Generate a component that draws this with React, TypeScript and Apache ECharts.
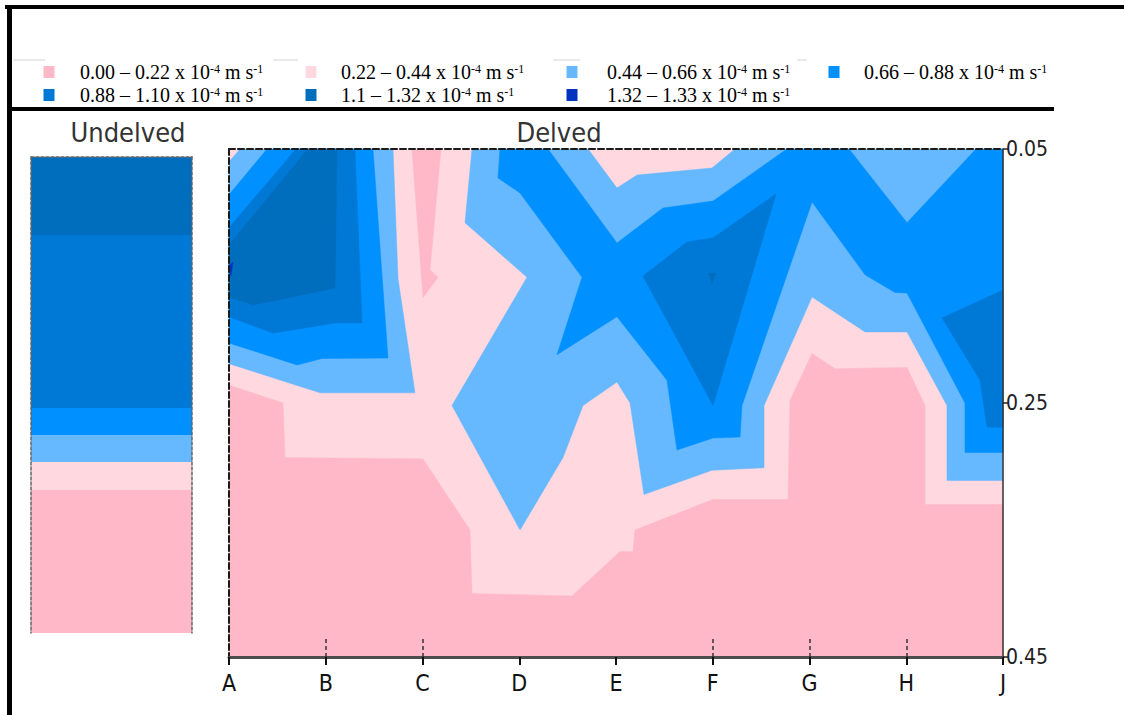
import React, { useEffect, useRef } from 'react';
import * as echarts from 'echarts';

// ---- data ----------------------------------------------------------------
const sites = ['A', 'B', 'C', 'D', 'E', 'F', 'G', 'H', 'J'];
const depthTicks = [0.05, 0.25, 0.45];
const innerTickSites = [1, 2, 5, 6, 7];

const bandRanges = [
  '0.00 – 0.22',
  '0.22 – 0.44',
  '0.44 – 0.66',
  '0.66 – 0.88',
  '0.88 – 1.10',
  '1.1 – 1.32',
  '1.32 – 1.33',
];
const bandColors = ['#ffb8c8', '#ffd8e0', '#66b8ff', '#0090ff', '#0079d6', '#006dbd', '#0033c0'];

// Undelved profile: layer boundaries (m) and the conductivity class of each layer
const undelvedBreaks = [0.05, 0.1155, 0.261, 0.2836, 0.3063, 0.3298, 0.45];
const undelvedClasses = [5, 4, 3, 2, 1, 0];

// Delved transect: contour regions, vertices as [site position, depth (m)]
const zone1Base = [[0, 0.05], [8, 0.05], [8, 0.45], [0, 0.45]];
const zone0Lower = [
  [0, 0.236], [0.558, 0.25], [0.579, 0.293], [2.005, 0.294], [2.491, 0.35], [2.512, 0.4],
  [3.545, 0.402], [4.041, 0.367], [4.176, 0.367], [4.196, 0.35], [5.003, 0.326], [5.778, 0.326],
  [5.798, 0.248], [6.026, 0.211], [6.264, 0.223], [7.008, 0.222], [7.194, 0.252], [7.194, 0.33],
  [8, 0.33], [8, 0.45], [0, 0.45],
];
const zone0Sliver = [[1.891, 0.05], [2.191, 0.05], [2.078, 0.145], [2.16, 0.151], [2.005, 0.167]];
const zone2West = [
  [0.114, 0.05], [1.695, 0.05], [1.747, 0.152], [1.922, 0.242], [0.941, 0.242], [0, 0.219], [0, 0.06],
];
const zone2East = [
  [2.512, 0.05], [3.711, 0.05], [4.01, 0.0807], [4.217, 0.0705], [4.992, 0.065], [5.23, 0.05],
  [8, 0.05], [8, 0.311], [7.421, 0.311], [7.421, 0.252], [7.008, 0.194], [6.574, 0.194],
  [6.026, 0.1665], [5.53, 0.252], [5.53, 0.301], [4.992, 0.303], [4.289, 0.322], [4.145, 0.25],
  [4.01, 0.2335], [3.659, 0.252], [3.452, 0.293], [3.008, 0.35], [2.305, 0.252], [3.08, 0.151],
  [2.439, 0.108],
];
const zone3West = [
  [0.393, 0.05], [1.488, 0.05], [1.643, 0.2146], [0.961, 0.215], [0.703, 0.22], [0, 0.2028], [0, 0.086],
];
const zone3East = [
  [2.801, 0.05], [3.297, 0.05], [4.01, 0.124], [4.486, 0.0965], [5.003, 0.091], [5.767, 0.05],
  [6.408, 0.05], [7.008, 0.108], [7.721, 0.05], [8, 0.05], [8, 0.289], [7.607, 0.289],
  [7.607, 0.25], [7.008, 0.1634], [6.884, 0.163], [6.574, 0.149], [6.026, 0.0917], [5.302, 0.252],
  [5.282, 0.2768], [5.003, 0.2776], [4.63, 0.287], [4.527, 0.232], [4.01, 0.182], [3.39, 0.212],
  [3.649, 0.151], [3.008, 0.0846], [2.78, 0.0728],
];
const zone4West = [
  [0.693, 0.05], [1.302, 0.05], [1.375, 0.187], [1.096, 0.187], [0.455, 0.195], [0, 0.182], [0, 0.112],
];
const zone4SiteF = [[4.279, 0.15], [4.734, 0.1232], [5.003, 0.12], [5.654, 0.0854], [5.003, 0.252]];
const zone4SiteJ = [[7.37, 0.183], [8, 0.161], [8, 0.269], [7.835, 0.269], [7.762, 0.232]];
const zone5West = [[0.817, 0.05], [1.116, 0.05], [1.096, 0.1594], [0.248, 0.1728], [0, 0.1665], [0, 0.1256]];
const zone5SiteF = [[4.96, 0.148], [5.03, 0.148], [4.99, 0.156]];
const zone6West = [[0, 0.142], [0.041, 0.139], [0.02, 0.15]];

const delvedZones = [
  { level: 1, pts: zone1Base },
  { level: 0, pts: zone0Lower },
  { level: 0, pts: zone0Sliver },
  { level: 2, pts: zone2West },
  { level: 2, pts: zone2East },
  { level: 3, pts: zone3West },
  { level: 3, pts: zone3East },
  { level: 4, pts: zone4West },
  { level: 4, pts: zone4SiteF },
  { level: 4, pts: zone4SiteJ },
  { level: 5, pts: zone5West },
  { level: 5, pts: zone5SiteF },
  { level: 6, pts: zone6West },
];

// ---- layout --------------------------------------------------------------
const W = 1124;
const H = 715;
const NARROW = "'Liberation Sans Narrow', 'DejaVu Sans Condensed', Arial, sans-serif";
const SERIF = "'Liberation Serif', 'Times New Roman', serif";
const TITLE_FONT = "'DejaVu Sans Condensed', 'DejaVu Sans', sans-serif";

const legendSlots = [
  { mx: 49, my: 72, tx: 80 },
  { mx: 311, my: 72, tx: 341 },
  { mx: 572, my: 72, tx: 607 },
  { mx: 834, my: 72, tx: 864 },
  { mx: 49, my: 95, tx: 80 },
  { mx: 311, my: 95, tx: 341 },
  { mx: 572, my: 95, tx: 607 },
];

function buildOption() {
  const legendGraphics: any[] = [];
  bandRanges.forEach((range, i) => {
    const s = legendSlots[i];
    legendGraphics.push({
      type: 'rect',
      shape: { x: s.mx - 5.5, y: s.my - 6, width: 11, height: 12 },
      style: { fill: bandColors[i] },
    });
    legendGraphics.push({
      type: 'text',
      x: s.tx,
      y: s.my,
      style: {
        text: `${range} x 10{s|-4} m s{s|-1}`,
        fontFamily: SERIF,
        fontSize: 20,
        lineHeight: 18,
        fill: '#000',
        verticalAlign: 'middle',
        rich: {
          s: { fontFamily: SERIF, fontSize: 12, lineHeight: 8, verticalAlign: 'top', fill: '#000' },
        },
      },
    });
  });

  const faintRules = [[13, 45], [273, 298], [553, 580], [797, 807]].map(([a, b]) => ({
    type: 'line',
    shape: { x1: a, y1: 60, x2: b, y2: 60 },
    style: { stroke: '#d4d4d4', lineWidth: 1 },
  }));

  const dashedBorder = {
    show: true,
    onZero: false,
    lineStyle: { color: '#1a1a1a', width: 2, type: [6, 3] },
  };
  const greyDashed = {
    show: true,
    onZero: false,
    lineStyle: { color: '#666', width: 1.5, type: [3, 2] },
  };

  return {
    animation: false,
    backgroundColor: '#fff',
    grid: [
      { left: 229, top: 149, width: 774, height: 508, containLabel: false },
      { left: 31, top: 157, width: 161, height: 476, containLabel: false },
    ],
    xAxis: [
      {
        gridIndex: 0,
        type: 'value',
        position: 'bottom',
        min: 0,
        max: 8,
        interval: 1,
        z: 10,
        axisLine: { show: true, onZero: false, lineStyle: { color: '#4d4d4d', width: 3 } },
        axisTick: { show: true, length: 8, lineStyle: { color: '#111', width: 2 } },
        axisLabel: {
          formatter: (v: number) => sites[Math.round(v)] ?? '',
          fontFamily: NARROW,
          fontSize: 23,
          color: '#111',
          margin: 14,
        },
        splitLine: { show: false },
      },
      {
        gridIndex: 0,
        type: 'value',
        position: 'bottom',
        min: 0,
        max: 8,
        interval: 1,
        z: 10,
        axisLine: { show: false, onZero: false },
        axisTick: {
          show: true,
          inside: true,
          length: 18,
          customValues: innerTickSites,
          lineStyle: { color: '#333', width: 1.5, type: [4, 3] },
        },
        axisLabel: { show: false },
        splitLine: { show: false },
      },
      {
        gridIndex: 0,
        type: 'value',
        position: 'top',
        min: 0,
        max: 8,
        z: 10,
        axisLine: dashedBorder,
        axisTick: { show: false },
        axisLabel: { show: false },
        splitLine: { show: false },
      },
      {
        gridIndex: 1,
        type: 'value',
        position: 'top',
        min: 0,
        max: 1,
        z: 10,
        axisLine: greyDashed,
        axisTick: { show: false },
        axisLabel: { show: false },
        splitLine: { show: false },
      },
    ],
    yAxis: [
      {
        gridIndex: 0,
        type: 'value',
        position: 'right',
        inverse: true,
        min: 0.05,
        max: 0.45,
        z: 10,
        axisLine: { show: true, onZero: false, lineStyle: { color: '#333', width: 1.5 } },
        axisTick: { show: true, length: 5, customValues: depthTicks, lineStyle: { color: '#222', width: 1.5 } },
        axisLabel: {
          customValues: depthTicks,
          formatter: (v: number) => v.toFixed(2),
          fontFamily: NARROW,
          fontSize: 21,
          color: '#222',
          margin: 3,
        },
        splitLine: { show: false },
      },
      {
        gridIndex: 0,
        type: 'value',
        position: 'left',
        inverse: true,
        min: 0.05,
        max: 0.45,
        z: 10,
        axisLine: dashedBorder,
        axisTick: { show: false },
        axisLabel: { show: false },
        splitLine: { show: false },
      },
      {
        gridIndex: 1,
        type: 'value',
        position: 'left',
        inverse: true,
        min: 0.05,
        max: 0.45,
        z: 10,
        axisLine: greyDashed,
        axisTick: { show: false },
        axisLabel: { show: false },
        splitLine: { show: false },
      },
      {
        gridIndex: 1,
        type: 'value',
        position: 'right',
        inverse: true,
        min: 0.05,
        max: 0.45,
        z: 10,
        axisLine: greyDashed,
        axisTick: { show: false },
        axisLabel: { show: false },
        splitLine: { show: false },
      },
    ],
    series: [
      {
        name: 'Delved',
        type: 'custom',
        xAxisIndex: 0,
        yAxisIndex: 0,
        silent: true,
        data: delvedZones.map((z) => z.pts[0]),
        renderItem: (params: any, api: any) => {
          const zone = delvedZones[params.dataIndex];
          return {
            type: 'polygon',
            shape: { points: zone.pts.map((p) => api.coord(p)) },
            style: { fill: bandColors[zone.level], stroke: bandColors[zone.level], lineWidth: 0.5 },
          };
        },
      },
      {
        name: 'Undelved',
        type: 'custom',
        xAxisIndex: 3,
        yAxisIndex: 2,
        silent: true,
        data: undelvedClasses.map((c, i) => [0, undelvedBreaks[i], undelvedBreaks[i + 1], c]),
        renderItem: (params: any, api: any) => {
          const top = api.coord([0, api.value(1)]);
          const bottom = api.coord([1, api.value(2)]);
          const color = bandColors[api.value(3)];
          return {
            type: 'rect',
            shape: { x: top[0], y: top[1], width: bottom[0] - top[0], height: bottom[1] - top[1] },
            style: { fill: color },
          };
        },
      },
    ],
    graphic: [
      // page frame and legend divider
      { type: 'rect', shape: { x: 5, y: 5, width: 1119, height: 4 }, style: { fill: '#000' } },
      { type: 'rect', shape: { x: 7, y: 5, width: 5, height: 710 }, style: { fill: '#000' } },
      { type: 'rect', shape: { x: 12, y: 107, width: 1042, height: 4 }, style: { fill: '#000' } },
      ...faintRules,
      ...legendGraphics,
      {
        type: 'text',
        x: 128,
        y: 132,
        style: {
          text: 'Undelved',
          fontFamily: TITLE_FONT,
          fontSize: 27,
          fill: '#333',
          align: 'center',
          verticalAlign: 'middle',
        },
      },
      {
        type: 'text',
        x: 559,
        y: 132,
        style: {
          text: 'Delved',
          fontFamily: TITLE_FONT,
          fontSize: 27,
          fill: '#333',
          align: 'center',
          verticalAlign: 'middle',
        },
      },
    ],
  };
}

export default function App() {
  const ref = useRef<HTMLDivElement>(null);

  useEffect(() => {
    if (!ref.current) return;
    const chart = echarts.init(ref.current, undefined, { renderer: 'svg', width: W, height: H });
    chart.setOption(buildOption() as any);
    return () => chart.dispose();
  }, []);

  return (
    <div
      ref={ref}
      style={{ position: 'fixed', left: 0, top: 0, width: W, height: H, background: '#fff' }}
    />
  );
}
